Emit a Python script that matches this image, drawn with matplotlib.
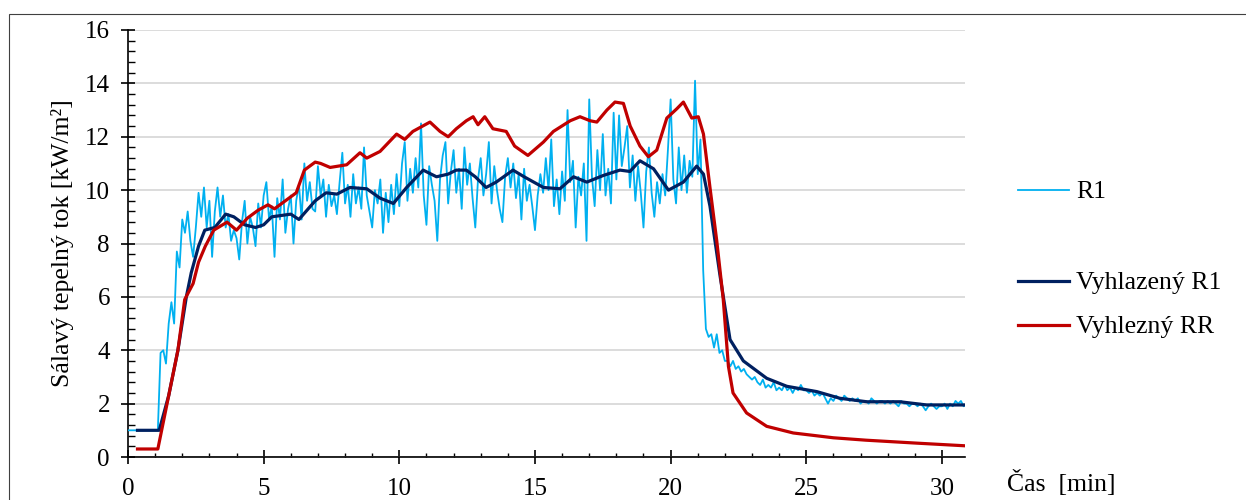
import numpy as np
import matplotlib
matplotlib.use("Agg")
import matplotlib.pyplot as plt
from matplotlib.ticker import MultipleLocator
from matplotlib.patches import Rectangle

plt.rcParams['font.family'] = ['Liberation Serif', 'DejaVu Serif']

# ===================== Data =====================
# R1 raw reading, one value every 0.1 min (rows = minutes 0..30)
r1_step = 0.1
r1 = [
    1.0, 1.0, 1.0, 1.0, 1.0, 1.0, 1.0, 1.0, 1.0, 1.0,
    1.0, 1.0, 3.9, 4.0, 3.5, 5.0, 5.8, 5.0, 7.7, 7.1,
    8.9, 8.4, 9.2, 8.1, 7.5, 8.6, 9.9, 9.0, 10.1, 8.6,
    9.6, 7.5, 9.2, 10.1, 9.0, 9.8, 8.6, 9.1, 8.1, 8.5,
    8.2, 7.4, 8.8, 9.6, 8.0, 9.0, 8.6, 7.9, 9.5, 8.6,
    9.8, 10.3, 8.9, 9.4, 7.5, 9.7, 8.9, 10.4, 8.4, 9.3,
    9.8, 8.0, 9.6, 10.2, 8.9, 11.0, 9.6, 10.3, 9.3, 9.2,
    10.9, 9.8, 10.4, 9.0, 10.2, 9.4, 9.8, 9.1, 10.3, 11.4,
    9.5, 10.2, 9.0, 10.6, 9.5, 10.1, 9.3, 11.6, 9.8, 9.2,
    8.6, 10.0, 9.5, 10.4, 8.4, 9.9, 8.8, 10.2, 9.1, 10.6,
    9.4, 11.0, 11.8, 9.6, 10.8, 9.9, 11.2, 10.1, 12.5, 9.8,
    8.7, 10.9, 10.2, 9.6, 8.1, 10.4, 11.3, 11.8, 9.5, 10.7,
    11.5, 9.9, 10.8, 9.3, 11.6, 10.2, 11.0, 9.7, 8.6, 10.4,
    11.2, 9.8, 10.6, 11.8, 9.5, 10.9, 10.0, 9.3, 8.8, 10.5,
    11.2, 10.1, 11.0, 9.7, 10.6, 8.9, 10.8, 9.6, 10.2, 9.4,
    8.5, 9.8, 10.6, 9.9, 11.2, 10.0, 11.9, 9.4, 10.4, 9.1,
    10.7, 9.6, 13.0, 10.3, 11.1, 8.6, 10.5, 9.8, 11.0, 8.1,
    13.4, 10.5, 9.4, 11.5, 10.0, 12.1, 9.8, 10.8, 9.5, 12.9,
    10.4, 12.8, 10.9, 11.6, 12.4, 10.1, 11.3, 9.6, 10.9, 9.9,
    8.6, 10.7, 11.6, 9.9, 9.0, 10.3, 9.5, 10.6, 9.8, 11.5,
    13.4, 10.4, 9.5, 11.6, 10.0, 11.3, 9.9, 11.1, 10.5, 14.1,
    10.6, 11.9, 7.0, 4.8, 4.5, 4.6, 4.1, 4.6, 3.9, 4.0,
    3.6, 3.6, 3.4, 3.6, 3.3, 3.4, 3.2, 3.3, 3.1, 3.0,
    2.9, 3.0, 2.8, 2.7, 2.9, 2.6, 2.7, 2.6, 2.8, 2.5,
    2.6, 2.5, 2.7, 2.5, 2.6, 2.4, 2.6, 2.5, 2.7, 2.5,
    2.5, 2.4, 2.5, 2.3, 2.4, 2.3, 2.4, 2.2, 2.0, 2.2,
    2.1, 2.3, 2.2, 2.1, 2.3, 2.2, 2.1, 2.2, 2.1, 2.2,
    2.0, 2.1, 2.1, 2.0, 2.2, 2.1, 2.0, 2.1, 2.1, 2.0,
    2.1, 2.0, 2.1, 2.0, 1.9, 2.1, 2.0, 2.0, 1.9, 2.0,
    2.0, 1.9, 2.0, 1.9, 1.75, 1.9, 2.0, 1.9, 1.8, 1.9,
    1.9, 2.0, 1.8, 2.0, 1.9, 2.1, 2.0, 2.1, 1.9, 2.0,
]

# smoothed R1
sm_t = [0.35, 1.15, 1.5, 1.84, 2.15, 2.33, 2.6, 2.83, 3.2, 3.6, 3.9, 4.3, 4.7, 5.0, 5.3,
        6.0, 6.3, 6.9, 7.3, 7.7, 8.18, 8.8, 9.29, 9.78, 10.27, 10.88, 11.37, 11.8, 12.1,
        12.47, 12.8, 13.2, 13.57, 14.19, 14.6, 15.31, 15.92, 16.42, 16.91, 17.52, 18.13,
        18.5, 18.87, 19.37, 19.92, 20.47, 20.96, 21.21, 21.45, 21.82, 22.19, 22.68, 23.54,
        24.28, 25.39, 26.24, 27.23, 28.45, 29.44, 30.85]
sm_r1 = [1.0, 1.0, 2.3, 4.0, 6.0, 6.9, 7.9, 8.5, 8.6, 9.1, 9.0, 8.7, 8.6, 8.7, 9.0,
         9.1, 8.9, 9.6, 9.9, 9.85, 10.1, 10.05, 9.7, 9.5, 10.1, 10.75, 10.5, 10.6, 10.75,
         10.75, 10.5, 10.1, 10.3, 10.75, 10.5, 10.1, 10.05, 10.5, 10.3, 10.55, 10.75,
         10.7, 11.1, 10.8, 10.0, 10.3, 10.9, 10.6, 9.4, 6.8, 4.4, 3.6, 2.95,
         2.65, 2.45, 2.2, 2.07, 2.07, 1.95, 1.95]

# smoothed RR
rr_t = [0.35, 1.1, 1.4, 1.84, 2.09, 2.4, 2.6, 2.85, 3.16, 3.65, 4.0, 4.4, 4.8, 5.16, 5.4,
        5.8, 6.2, 6.5, 6.9, 7.1, 7.45, 8.06, 8.55, 8.8, 9.29, 9.9, 10.2, 10.5, 11.13, 11.5,
        11.8, 12.1, 12.47, 12.72, 12.9, 13.15, 13.45, 13.94, 14.25, 14.74, 15.31, 15.68,
        16.3, 16.66, 17.03, 17.28, 17.65, 17.95, 18.26, 18.51, 18.87, 19.18, 19.49, 19.86,
        20.23, 20.47, 20.78, 21.02, 21.21, 21.45, 21.7, 21.94, 22.13, 22.3, 22.8, 23.54,
        24.52, 26.0, 27.2, 29.06, 30.85]
rr = [0.3, 0.3, 1.8, 4.0, 5.9, 6.5, 7.3, 7.9, 8.5, 8.8, 8.5, 8.95, 9.25, 9.45, 9.3,
      9.6, 9.9, 10.75, 11.05, 11.0, 10.85, 10.95, 11.4, 11.2, 11.45, 12.1, 11.9, 12.2, 12.55, 12.2,
      12.0, 12.3, 12.6, 12.75, 12.45, 12.75, 12.3, 12.2, 11.65, 11.3, 11.8, 12.2,
      12.6, 12.75, 12.6, 12.55, 13.0, 13.3, 13.25, 12.4, 11.65, 11.25, 11.5, 12.7,
      13.05, 13.3, 12.7, 12.75, 12.1, 10.1, 8.1, 5.9, 3.4, 2.4, 1.65, 1.15,
      0.9, 0.72, 0.63, 0.52, 0.42]

labels = ['R1', 'Vyhlazený R1', 'Vyhlezný RR']
colors = ['#00B0F0', '#002060', '#C00000']

# ===================== Plot =====================
W, H = 1246, 500
fig = plt.figure(figsize=(W / 100, H / 100), dpi=100)
ax = fig.add_axes([128 / W, 1 - 457 / H, (965 - 128) / W, (457 - 30) / H])

t_r1 = np.arange(len(r1)) * r1_step
l1, = ax.plot(t_r1, r1, color=colors[0], lw=1.3, zorder=3)
l2, = ax.plot(sm_t, sm_r1, color=colors[1], lw=2.3, zorder=4)
l3, = ax.plot(rr_t, rr, color=colors[2], lw=2.3, zorder=5)

ax.set_xlim(0, 30.85)
ax.set_ylim(0, 16)
ax.xaxis.set_major_locator(MultipleLocator(5))
ax.xaxis.set_minor_locator(MultipleLocator(1))
ax.yaxis.set_major_locator(MultipleLocator(2))
ax.yaxis.set_minor_locator(MultipleLocator(0.4))
ax.grid(axis='y', which='major', color='#D9D9D9', lw=1.3)
ax.set_axisbelow(True)
for s in ['top', 'right']:
    ax.spines[s].set_visible(False)
for s in ['left', 'bottom']:
    ax.spines[s].set_linewidth(1.2)
ax.tick_params(axis='y', which='major', direction='inout', length=10, width=1.2, labelsize=18, pad=8)
ax.tick_params(axis='y', which='minor', direction='in', length=5, width=1.0)
ax.tick_params(axis='x', which='major', direction='inout', length=10, width=1.2, labelsize=18, pad=10)
ax.tick_params(axis='x', which='minor', direction='in', length=3, width=1.0)

ax.set_ylabel('Sálavý tepelný tok [kW/m²]', fontsize=18.5, labelpad=8)
fig.text(1007 / W, 1 - 483 / H, 'Čas  [min]', fontsize=18.5, va='center', ha='left')

# legend entries, spaced like the original
for h, lab, yp in zip([l1, l2, l3], labels, [192, 283, 327]):
    lg = fig.legend([h], [lab], loc='center left', bbox_to_anchor=(1018 / W, 1 - yp / H),
                    frameon=False, fontsize=18.5, handlelength=2.0, handletextpad=0.25,
                    borderpad=0, borderaxespad=0)

# outer frame
fig.patches.append(Rectangle((9 / W, -0.1), 1.2, 1.1 - 14 / H, transform=fig.transFigure,
                             fill=False, edgecolor='#404040', lw=0.8))

fig.savefig('out.png', dpi=100)
